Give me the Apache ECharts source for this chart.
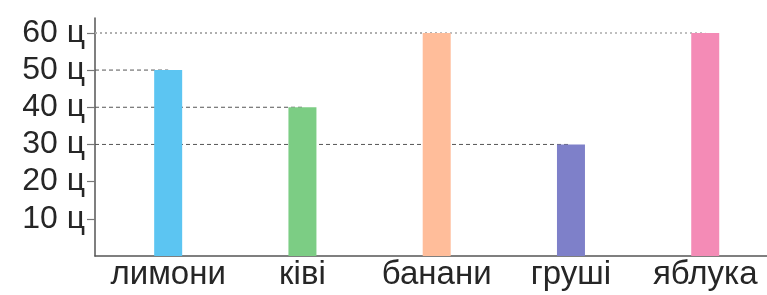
<!DOCTYPE html>
<html><head><meta charset="utf-8">
<script src="https://cdn.jsdelivr.net/npm/echarts@6/dist/echarts.min.js"></script>
<style>html,body{margin:0;padding:0;background:#fff}#c{width:767px;height:295px}</style>
</head><body><div id="c"></div>
<script>
const categories = ['лимони', 'ківі', 'банани', 'груші', 'яблука'];
const values = [50, 40, 60, 30, 60];
const colors = ['#5cc5f2', '#7ccd84', '#ffbd9a', '#7e80c9', '#f48bb6'];
const yTicks = [10, 20, 30, 40, 50, 60];
const unit = ' ц';

const X_MIN = -0.545, X_MAX = 4.46;
const maxVal = Math.max.apply(null, values);
const FONT = 'Liberation Sans, Arial, Helvetica, sans-serif';

const chart = echarts.init(document.getElementById('c'));
chart.setOption({
  animation: false,
  grid: { left: 95, right: 0, top: 18, bottom: 39 },
  xAxis: {
    type: 'value', min: X_MIN, max: X_MAX,
    splitLine: { show: false },
    axisLine: { show: true, lineStyle: { color: '#555', width: 1.5 } },
    axisTick: { show: false },
    axisLabel: {
      customValues: categories.map((c, i) => i),
      formatter: v => categories[Math.round(v)] || '',
      color: '#262626', fontSize: 33, fontFamily: FONT, margin: 2
    }
  },
  yAxis: {
    type: 'value', min: 0, max: 64,
    splitLine: { show: false },
    axisLine: { show: true, onZero: false, lineStyle: { color: '#555', width: 1.5 } },
    axisTick: { show: true, customValues: yTicks, length: 8, lineStyle: { color: '#777', width: 1.2 } },
    axisLabel: {
      customValues: yTicks,
      formatter: v => v + unit,
      color: '#262626', fontSize: 32, fontFamily: FONT, margin: 10
    }
  },
  series: [
    {
      type: 'custom',
      z: 1,
      data: values.map((v, i) => [i, v]),
      renderItem: function (params, api) {
        const i = api.value(0), v = api.value(1);
        const p0 = api.coord([X_MIN, v]);
        const p1 = api.coord([i, v]);
        const top = v === maxVal;
        return {
          type: 'line',
          shape: { x1: p0[0], y1: p0[1], x2: p1[0], y2: p1[1] },
          style: top
            ? { stroke: '#aaa', lineWidth: 1.5, lineDash: [2, 3] }
            : { stroke: '#555', lineWidth: 1, lineDash: [4, 3] }
        };
      }
    },
    {
      type: 'bar',
      z: 2,
      barWidth: 28,
      data: values.map((v, i) => ({ value: [i, v], itemStyle: { color: colors[i] } }))
    }
  ]
});
</script>
</body></html>
